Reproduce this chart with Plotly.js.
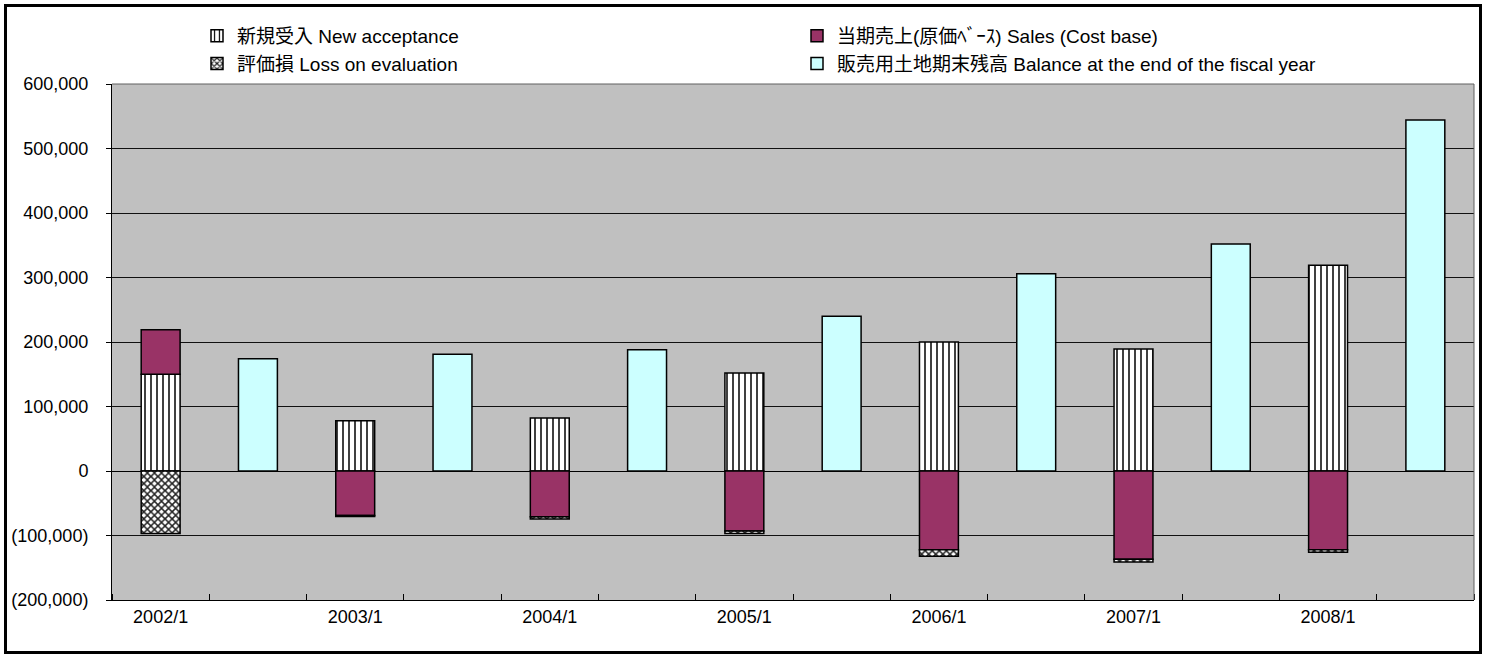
<!DOCTYPE html>
<html>
<head>
<meta charset="utf-8">
<script src="https://cdn.plot.ly/plotly-3.0.1.min.js"></script>
<style>
  html, body { margin: 0; padding: 0; background: #fff; }
  #wrap { position: relative; width: 1485px; height: 660px; }
  #chart { width: 1485px; height: 660px; }
  #frame { position: absolute; left: 4px; top: 4px; width: 1478px; height: 650px;
           box-sizing: border-box; border: 3px solid #000; pointer-events: none; }
</style>
</head>
<body>
<div id="wrap">
  <div id="chart"></div>
  <div id="frame"></div>
</div>
<script>
// ---- data (yen, thousands) ----
const yearLabels    = ['2002/1', '2003/1', '2004/1', '2005/1', '2006/1', '2007/1', '2008/1'];
const newAcceptance = [150000, 78000, 82000, 152000, 200000, 189000, 319000];
const sales         = [69000, -69000, -71000, -93000, -122000, -137000, -122000];
const lossOnEval    = [-97000, -1500, -3500, -4000, -10000, -4000, -4000];
const balance       = [174000, 181000, 188000, 240000, 306000, 352000, 544000];

const yTickVals  = [-200000, -100000, 0, 100000, 200000, 300000, 400000, 500000, 600000];
const yTickText  = ['(200,000)', '(100,000)', '0', '100,000', '200,000', '300,000', '400,000', '500,000', '600,000'];

const seriesNames = [
  '新規受入 New acceptance',
  '当期売上(原価ﾍﾞｰｽ) Sales (Cost base)',
  '評価損 Loss on evaluation',
  '販売用土地期末残高 Balance at the end of the fiscal year'
];

// slot positions: year bars on even slots, balance bars on odd slots
const xYear = yearLabels.map((_, i) => 2 * i);
const xBal  = yearLabels.map((_, i) => 2 * i + 1);

const FONT = 'Liberation Sans, Arial, "Noto Sans CJK JP", sans-serif';
const outline = { color: '#000', width: 1.5 };
const BW = 0.4;

const traces = [
  { type: 'bar', name: seriesNames[0], x: xYear, y: newAcceptance, width: BW,
    marker: { color: '#fff', line: outline,
      pattern: { shape: '|', size: 6, solidity: 0.25, fgcolor: '#000', bgcolor: '#fff' } } },
  { type: 'bar', name: seriesNames[1], x: xYear, y: sales, width: BW,
    marker: { color: '#993366', line: outline } },
  { type: 'bar', name: seriesNames[2], x: xYear, y: lossOnEval, width: BW,
    marker: { color: '#fff', line: outline,
      pattern: { shape: 'x', size: 5, solidity: 0.5, fgcolor: '#222', bgcolor: '#fff' } } },
  { type: 'bar', name: seriesNames[3], x: xBal, y: balance, width: BW,
    marker: { color: '#CCFFFF', line: outline } }
];

const layout = {
  width: 1485, height: 660,
  margin: { l: 112, r: 11, t: 84, b: 60 },
  paper_bgcolor: '#fff',
  plot_bgcolor: '#C0C0C0',
  barmode: 'relative',
  font: { family: FONT, size: 18, color: '#000' },
  showlegend: true,
  legend: {
    orientation: 'h', xref: 'container', yref: 'container',
    x: 197 / 1485, xanchor: 'left', y: 1 - 17 / 660, yanchor: 'top',
    entrywidth: 555, entrywidthmode: 'pixels',
    bgcolor: 'rgba(0,0,0,0)', traceorder: 'normal',
    font: { family: FONT, size: 19, color: '#000' }
  },
  xaxis: {
    type: 'linear', range: [-0.5, 13.5], fixedrange: true,
    tickmode: 'array', tickvals: xYear, ticktext: yearLabels,
    ticks: '', showgrid: false, zeroline: false,
    showline: true, linecolor: '#000', linewidth: 1,
    tickfont: { family: FONT, size: 18, color: '#000' },
    minor: { tickmode: 'linear', tick0: 0.5, dtick: 1, ticks: 'inside', ticklen: 6,
             tickcolor: '#000', tickwidth: 1, showgrid: false }
  },
  yaxis: {
    range: [-200000, 600000], fixedrange: true,
    tickmode: 'array', tickvals: yTickVals, ticktext: yTickText,
    ticks: 'outside', ticklen: 5, tickcolor: '#000',
    ticklabelstandoff: 14,
    showgrid: true, gridcolor: '#111', gridwidth: 1,
    zeroline: true, zerolinecolor: '#000', zerolinewidth: 1,
    showline: true, linecolor: '#000', linewidth: 1,
    tickfont: { family: FONT, size: 18, color: '#000' }
  },
  shapes: [
    { type: 'line', xref: 'paper', yref: 'paper', x0: 1, x1: 1, y0: 0, y1: 1,
      line: { color: '#606060', width: 1 } },
    { type: 'line', xref: 'paper', yref: 'paper', x0: 0, x1: 1, y0: 1, y1: 1,
      line: { color: '#606060', width: 1 } }
  ]
};

Plotly.newPlot('chart', traces, layout, { displayModeBar: false, staticPlot: true });
</script>
</body>
</html>
